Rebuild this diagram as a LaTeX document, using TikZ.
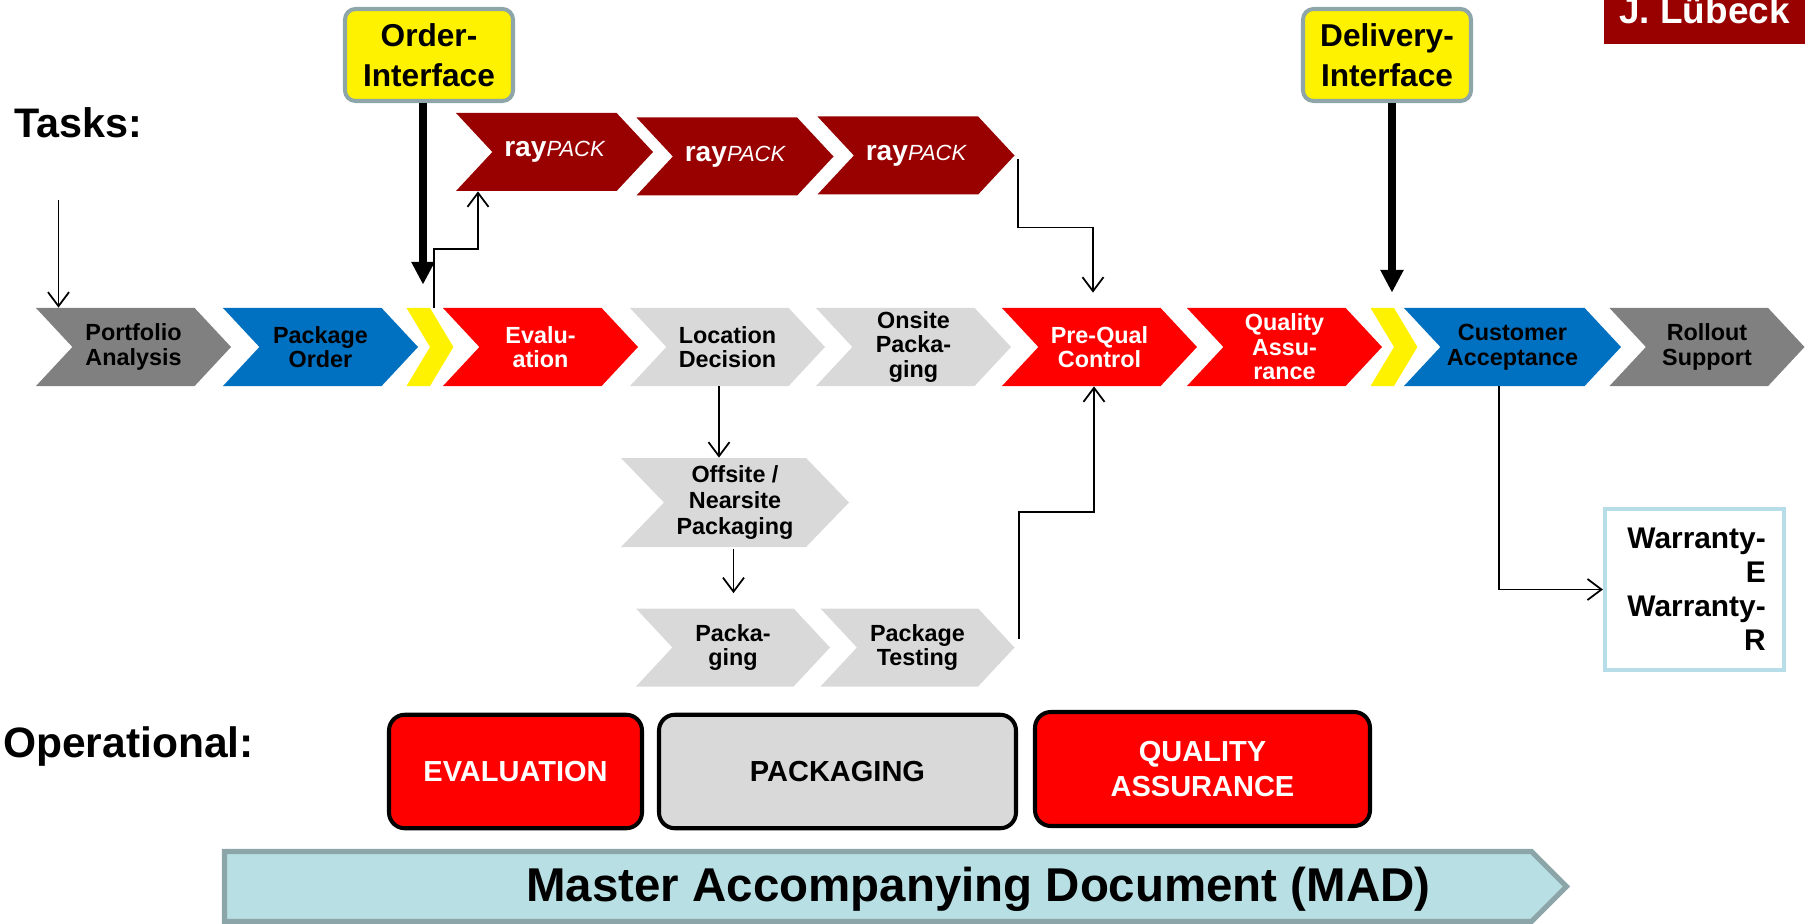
\documentclass[tikz,border=0pt]{standalone}
\usepackage{fontspec}
\setmainfont{Liberation Sans}
\usetikzlibrary{shapes.symbols,arrows.meta}

\definecolor{chevgray}{HTML}{808080}
\definecolor{chevblue}{HTML}{0070C0}
\definecolor{chevred}{HTML}{FF0000}
\definecolor{chevlight}{HTML}{D9D9D9}
\definecolor{rayred}{HTML}{990000}
\definecolor{ifaceedge}{HTML}{8EA6A9}
\definecolor{madfill}{HTML}{B8DFE3}
\definecolor{madedge}{HTML}{8BA5A8}
\definecolor{warredge}{HTML}{B7DEE8}

\newcommand{\raypack}{{\fontsize{16}{18}\selectfont\bfseries ray}{\fontsize{12.5}{14}\selectfont\mdseries\itshape PACK}}

\begin{document}
\begin{tikzpicture}[
    chev/.style={signal, signal from=west, signal to=east, signal pointer angle=94, minimum width=3.9cm, minimum height=1.56cm, inner sep=0pt, align=center, font=\fontsize{13.3}{14}\selectfont\bfseries},
    gate/.style={chev, fill=yellow, minimum width=0.86cm, signal pointer angle=118},
    raybox/.style={chev, fill=rayred, text=white, minimum width=3.94cm},
    opbox/.style={draw, line width=2.3pt, rounded corners=9pt, minimum height=2.27cm, align=center, font=\fontsize{16.5}{20}\selectfont\bfseries},
    iface/.style={draw=ifaceedge, fill=yellow, line width=2.3pt, rounded corners=6pt, minimum width=3.36cm, minimum height=1.84cm, align=center, font=\fontsize{18}{23}\selectfont\bfseries},
    heading/.style={anchor=west, font=\fontsize{23.5}{26}\selectfont\bfseries},
    flow/.style={->, >={Straight Barb[length=8pt,width=12pt]}, line width=1pt},
    feed/.style={-{Triangle[length=13pt,width=12.5pt]}, line width=4pt},
  ]
  \useasboundingbox (0,0) rectangle (36.1,-18.48);

  % headings
  \node[heading] (tasks) at (0.17,-2.46) {Tasks:};
  \node[heading, font=\fontsize{24.2}{27}\selectfont\bfseries] (oper) at (-0.06,-14.93) {Operational:};
  \node[fill=rayred, text=white, minimum width=4.02cm, minimum height=0.88cm, inner sep=0pt, text height=0.3cm, text depth=0.22cm, font=\fontsize{21}{24}\selectfont\bfseries] (author) at (34.09,-0.44) {J. Lübeck};

  % interfaces
  \node[iface] (order) at (8.58,-1.10) {Order-\\Interface};
  \node[iface] (deliv) at (27.74,-1.10) {Delivery-\\Interface};

  % rayPACK steps
  \node[raybox] (rp1) at (11.09,-3.04) {\raypack};
  \node[raybox] (rp2) at (14.70,-3.13) {\raypack};
  \node[raybox] (rp3) at (18.32,-3.11) {\raypack};

  % main task row
  \node[chev, fill=chevgray] (port) at (2.67,-6.94) {Portfolio\\Analysis};
  \node[chev, fill=chevblue] (pord) at (6.41,-6.94) {Package\\Order};
  \node[gate] (gate1) at (8.60,-6.94) {};
  \node[chev, fill=chevred, text=white] (eval) at (10.81,-6.94) {Evalu-\\ation};
  \node[chev, fill=chevlight] (loc) at (14.55,-6.94) {Location\\Decision};
  \node[chev, fill=chevlight] (onsite) at (18.27,-6.94) {Onsite\\Packa-\\ging};
  \node[chev, fill=chevred, text=white] (pq) at (21.99,-6.94) {Pre-Qual\\Control};
  \node[chev, fill=chevred, text=white] (qa) at (25.69,-6.94) {Quality\\Assu-\\rance};
  \node[gate] (gate2) at (27.88,-6.94) {};
  \node[chev, fill=chevblue, minimum width=4.34cm] (cust) at (30.25,-6.94) {Customer\\Acceptance};
  \node[chev, fill=chevgray] (roll) at (34.14,-6.94) {Rollout\\Support};

  % packaging branch
  \node[chev, fill=chevlight, minimum width=4.56cm, minimum height=1.78cm, signal pointer angle=92, font=\fontsize{13.3}{14.8}\selectfont\bfseries] (offs) at (14.70,-10.05) {Offsite /\\Nearsite\\Packaging};
  \node[chev, fill=chevlight, minimum width=3.88cm] (pkg) at (14.66,-12.95) {Packa-\\ging};
  \node[chev, fill=chevlight, minimum width=3.88cm] (test) at (18.35,-12.95) {Package\\Testing};

  \node[draw=warredge, line width=2.3pt, minimum width=3.58cm, minimum height=3.22cm, inner sep=0pt, align=right, text width=2.85cm, font=\fontsize{17}{19.3}\selectfont\bfseries] (warr) at (33.89,-11.79) {Warranty-\\E\\Warranty-\\R};

  % operational level
  \node[opbox, fill=chevred, text=white, minimum width=5.06cm] (opeval) at (10.31,-15.43) {EVALUATION};
  \node[opbox, fill=chevlight, minimum width=7.14cm] (oppack) at (16.75,-15.43) {PACKAGING};
  \node[opbox, fill=chevred, text=white, minimum width=6.70cm, minimum height=2.28cm] (opqa) at (24.05,-15.38) {QUALITY\\ASSURANCE};

  \node[signal, signal to=east, signal pointer angle=90, draw=madedge, fill=madfill, line width=3pt, minimum width=26.84cm, minimum height=1.40cm] (mad) at (17.56,-17.73) {};
  \node[font=\fontsize{27}{30}\selectfont\bfseries] (madtext) at (19.57,-17.78) {Master Accompanying Document (MAD)};

  % connectors
  \coordinate (start) at (1.17,-4.0);
  \draw[flow] (start) -- (start |- port.north);
  \coordinate (ordfoot) at ([xshift=-0.12cm]order.south);
  \draw[feed, shorten >=0.46cm] (ordfoot) -- (ordfoot |- gate1.north);
  \draw[flow] ([xshift=0.08cm]gate1.north) -- ++(0,1.18) -| ([xshift=-1.53cm]rp1.south);
  \draw[flow, shorten >=0.3cm] ([xshift=0.06cm,yshift=-0.08cm]rp3.east) -- ++(0,-1.36) -| ([xshift=-0.13cm]pq.north);
  \coordinate (delfoot) at ([xshift=0.1cm]deliv.south);
  \draw[feed, shorten >=0.3cm] (delfoot) -- (delfoot |- gate2.north);
  \coordinate (locfoot) at ([xshift=-0.17cm]loc.south);
  \draw[flow] (locfoot) -- (locfoot |- offs.north);
  \coordinate (offfoot) at ([xshift=-0.03cm,yshift=-0.04cm]offs.south);
  \draw[flow, shorten >=0.3cm] (offfoot) -- (offfoot |- pkg.north);
  \draw[flow] ([xshift=0.08cm,yshift=0.17cm]test.east) -- ++(0,2.54) -| ([xshift=-0.11cm]pq.south);
  \draw[flow] ([xshift=-0.27cm]cust.south) |- (warr.west);
\end{tikzpicture}
\end{document}
